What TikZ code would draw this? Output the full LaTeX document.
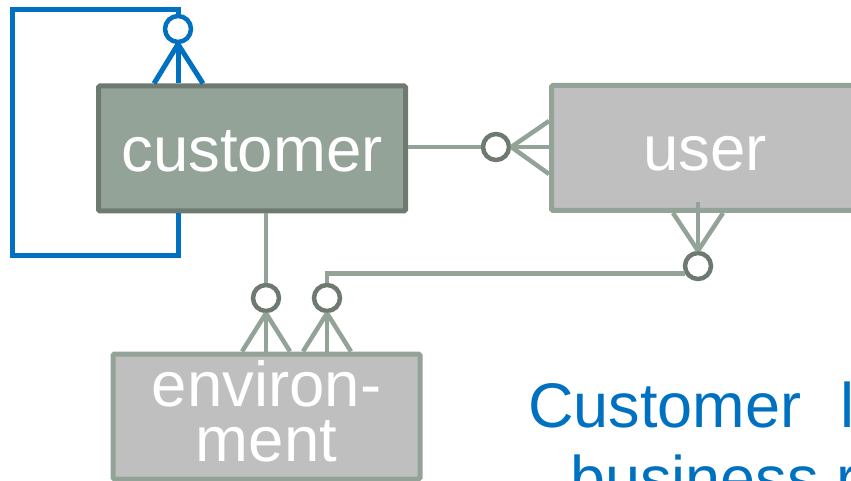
\documentclass[tikz,border=0pt]{standalone}
\usepackage{fontspec}
\setmainfont{Liberation Sans}
\usetikzlibrary{positioning}
\definecolor{boxgreen}{HTML}{93A397}
\definecolor{edgedark}{HTML}{6E7A70}
\definecolor{boxgrey}{HTML}{BFBFBF}
\definecolor{linkblue}{HTML}{0070C0}
\tikzset{
  entity/.style={draw, rectangle, rounded corners=1.5pt, line width=5pt, minimum width=307pt, minimum height=125pt, inner sep=0pt, text=white, font=\fontsize{63.5}{55}\selectfont, align=center},
  oneline/.style={text height=46pt, text depth=0pt},
  ring/.style={draw=edgedark, circle, line width=4.5pt, minimum size=26pt, inner sep=0pt, fill=white},
  link/.style={draw=boxgreen, line width=4.5pt},
  bluelink/.style={draw=linkblue, line width=5pt},
  caption/.style={text=linkblue, font=\fontsize{63}{74}\selectfont, anchor=base west, inner sep=0pt}
}

\begin{document}
\begin{tikzpicture}[x=1pt, y=-1pt]
    \useasboundingbox (0,0) rectangle (851,481);
    \clip (0,0) rectangle (851,481);

    \node[entity, oneline, fill=boxgreen, draw=edgedark] (customer) at (252,148.5) {customer};
    \node[entity, oneline, fill=boxgrey, draw=boxgreen] (user) at (705,148) {user};
    \node[entity, fill=boxgrey, draw=boxgreen] (environment) at (266.5,416.5) {environ-\\ment\rule[-12pt]{0pt}{0pt}};

    % zero-or-many ends
    \node[ring, draw=linkblue] (ringself) at (178,29) {};
    \node[ring] (ringuser) at (496,147) {};
    \node[ring] (ringenvA) at (266,298) {};
    \node[ring] (ringenvB) at (327,298) {};
    \node[ring] (ringuserB) at (698,266) {};

    \coordinate (looptop) at (12,10);
    \coordinate (loopbot) at (12,255);

    % customer to itself
    \draw[bluelink] (ringself.north) |- (looptop) -- (loopbot) -| (customer.south -| ringself);
    \draw[bluelink] (ringself.south) -- (ringself |- customer.north);
    \draw[bluelink] (ringself.south) -- ([xshift=-24pt]ringself |- customer.north);
    \draw[bluelink] (ringself.south) -- ([xshift=25pt]ringself |- customer.north);

    % customer to user
    \draw[link] (customer.east |- ringuser) -- (ringuser);
    \draw[link] (ringuser.east) -- (user.west |- ringuser);
    \draw[link] (ringuser.east) -- ([yshift=26pt]user.west |- ringuser);
    \draw[link] (ringuser.east) -- ([yshift=-27pt]user.west |- ringuser);

    % customer to environment
    \draw[link] (ringenvA.north) -- (ringenvA |- customer.south);
    \draw[link] (ringenvA.south) -- (ringenvA |- environment.north);
    \draw[link] (ringenvA.south) -- ([xshift=-24pt]ringenvA |- environment.north);
    \draw[link] (ringenvA.south) -- ([xshift=24pt]ringenvA |- environment.north);

    % user to environment
    \draw[link] (ringenvB.north) |- (ringuserB.210);
    \draw[link] (ringenvB.south) -- (ringenvB |- environment.north);
    \draw[link] (ringenvB.south) -- ([xshift=-24pt]ringenvB |- environment.north);
    \draw[link] (ringenvB.south) -- ([xshift=24pt]ringenvB |- environment.north);
    \draw[link] (ringuserB.north) -- ([yshift=11pt]ringuserB |- user.south);
    \draw[link] (ringuserB.north) -- ([xshift=-25pt]ringuserB |- user.south);
    \draw[link] (ringuserB.north) -- ([xshift=25pt]ringuserB |- user.south);

    \node[caption] (captop) at (528,427) {Customer\hspace{39pt}l};
    \node[caption] (capbot) at (570,500) {business r};
\end{tikzpicture}
\end{document}
